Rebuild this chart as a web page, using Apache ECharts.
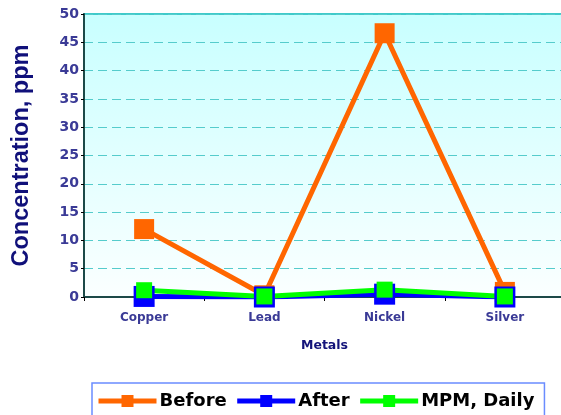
<!DOCTYPE html>
<html><head><meta charset="utf-8">
<script src="https://cdn.jsdelivr.net/npm/echarts@6/dist/echarts.min.js"></script>
<style>html,body{margin:0;padding:0;background:#fff}#c{width:561px;height:415px}</style>
</head><body><div id="c"></div>
<script>
const categories = ['Copper', 'Lead', 'Nickel', 'Silver'];
const before = [12.0, 0.3, 46.6, 0.9];
const after = [0.1, 0.0, 0.5, 0.0];
const mpmDaily = [1.2, 0.1, 1.3, 0.1];
const yTicks = { min: 0, max: 50, interval: 5 };

const chart = echarts.init(document.getElementById('c'));
const wide = 'DejaVu Sans, Verdana, sans-serif';
const arial = 'Liberation Sans, Arial, sans-serif';
function s(name, data, color, size) {
  return {
    name, type: 'line', data,
    symbol: 'rect', symbolSize: size,
    lineStyle: { color, width: 5 },
    itemStyle: { color, borderWidth: 0 },
    emphasis: { disabled: true },
    animation: false
  };
}
chart.setOption({
  backgroundColor: '#ffffff',
  grid: {
    left: 84, right: -4, top: 14, bottom: 118,
    outerBoundsMode: 'none', containLabel: false,
    show: true, borderColor: '#3fcaca', borderWidth: 2,
    backgroundColor: new echarts.graphic.LinearGradient(0, 0, 0, 1, [
      { offset: 0, color: '#c8ffff' }, { offset: 1, color: '#fbffff' }
    ])
  },
  xAxis: {
    type: 'category', data: categories, boundaryGap: true,
    name: 'Metals', nameLocation: 'middle', nameGap: 42,
    nameTextStyle: { fontFamily: wide, fontSize: 12.5, fontWeight: 'bold', color: '#14147a' },
    axisLine: { lineStyle: { color: '#1c4a48', width: 2 } },
    axisTick: { show: true, length: 4, lineStyle: { color: '#000', width: 1 } },
    axisLabel: { fontFamily: wide, fontSize: 12, fontWeight: 'bold', color: '#3a3a96', margin: 15 },
    splitLine: { show: false }
  },
  yAxis: {
    type: 'value', min: yTicks.min, max: yTicks.max, interval: yTicks.interval,
    name: 'Concentration, ppm', nameLocation: 'middle', nameGap: 50,
    nameTextStyle: { fontFamily: arial, fontSize: 23.5, fontWeight: 'bold', color: '#10107a' },
    axisLine: { show: true, lineStyle: { color: '#1c4a48', width: 2 } },
    axisTick: { show: true, length: 3, lineStyle: { color: '#000', width: 1 } },
    axisLabel: { fontFamily: wide, fontSize: 14, fontWeight: 'bold', color: '#3a3a96', margin: 5 },
    splitLine: { show: true, lineStyle: { color: '#55cccc', type: [9, 5], width: 1 } }
  },
  legend: {
    left: 92, top: 383,
    data: ['Before', 'After', 'MPM, Daily'],
    itemWidth: 58, itemHeight: 15, itemGap: 8,
    padding: [7, 10, 10, 4],
    borderColor: '#6a8cff', borderWidth: 1.5,
    lineStyle: { width: 5 },
    textStyle: { fontFamily: wide, fontSize: 18, lineHeight: 22, fontWeight: 'bold', color: '#000', padding: [0, 0, 0, -2] }
  },
  series: [
    s('Before', before, '#ff6600', 20),
    s('After', after, '#0000ff', 21),
    s('MPM, Daily', mpmDaily, '#00ff00', 16)
  ]
});
</script></body></html>
